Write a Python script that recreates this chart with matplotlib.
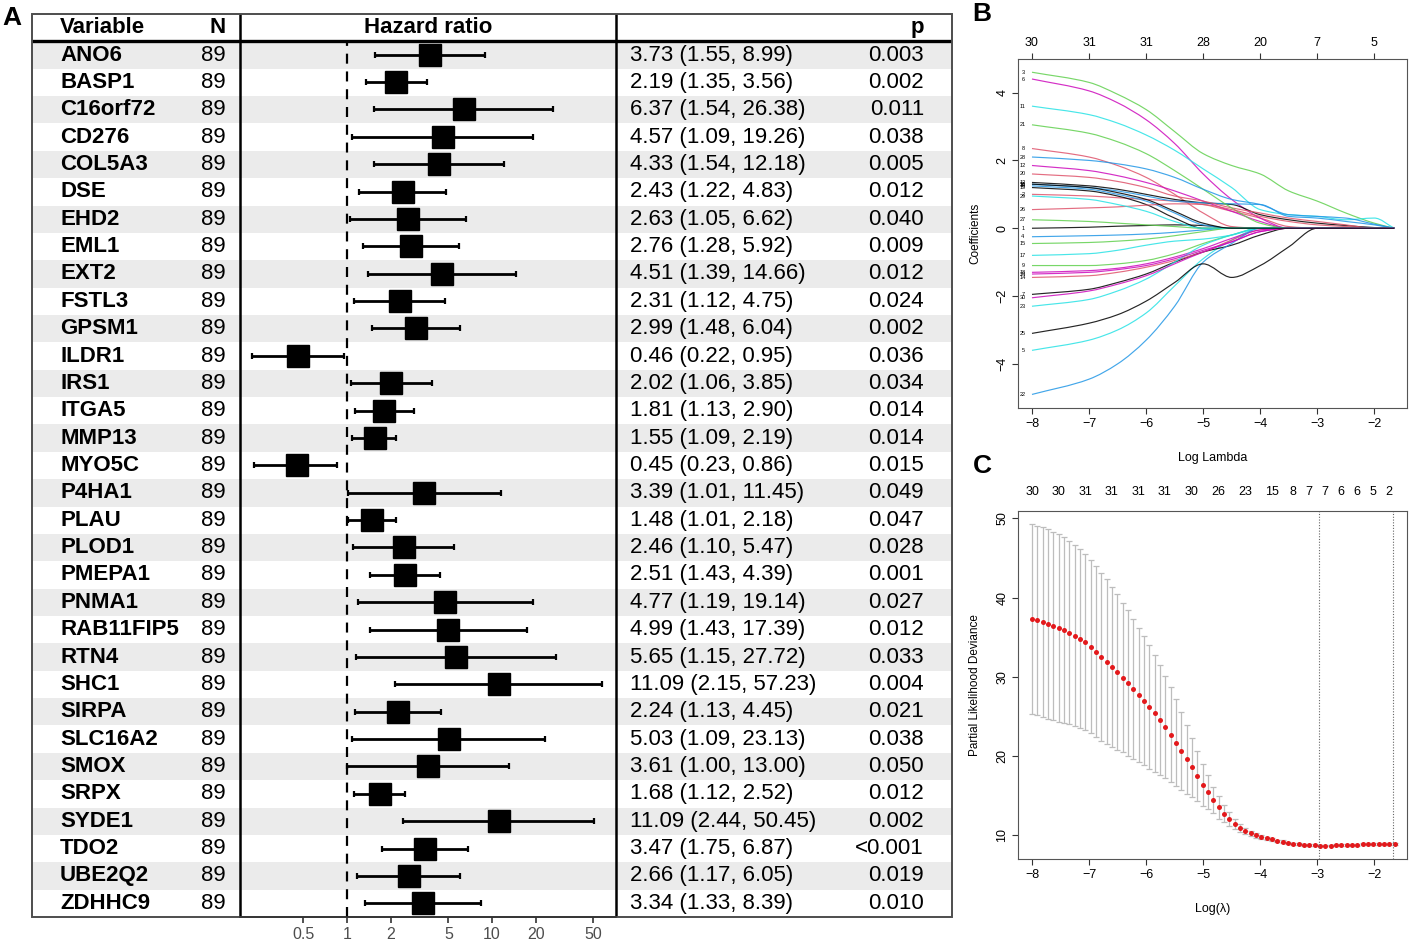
import numpy as np
import matplotlib
matplotlib.use("Agg")
import matplotlib.pyplot as plt
from matplotlib.patches import Rectangle, PathPatch
from matplotlib.path import Path

plt.rcParams["font.family"] = ["Liberation Sans", "DejaVu Sans"]

W, H = 1417, 947

# ---- panel A data (univariate cox) ----
genes = ["ANO6", "BASP1", "C16orf72", "CD276", "COL5A3", "DSE", "EHD2", "EML1",
         "EXT2", "FSTL3", "GPSM1", "ILDR1", "IRS1", "ITGA5", "MMP13", "MYO5C",
         "P4HA1", "PLAU", "PLOD1", "PMEPA1", "PNMA1", "RAB11FIP5", "RTN4", "SHC1",
         "SIRPA", "SLC16A2", "SMOX", "SRPX", "SYDE1", "TDO2", "UBE2Q2", "ZDHHC9"]
n_obs = [89] * 32
hr = [3.73, 2.19, 6.37, 4.57, 4.33, 2.43, 2.63, 2.76, 4.51, 2.31, 2.99, 0.46,
      2.02, 1.81, 1.55, 0.45, 3.39, 1.48, 2.46, 2.51, 4.77, 4.99, 5.65, 11.09,
      2.24, 5.03, 3.61, 1.68, 11.09, 3.47, 2.66, 3.34]
ci_low = [1.55, 1.35, 1.54, 1.09, 1.54, 1.22, 1.05, 1.28, 1.39, 1.12, 1.48, 0.22,
          1.06, 1.13, 1.09, 0.23, 1.01, 1.01, 1.10, 1.43, 1.19, 1.43, 1.15, 2.15,
          1.13, 1.09, 1.00, 1.12, 2.44, 1.75, 1.17, 1.33]
ci_high = [8.99, 3.56, 26.38, 19.26, 12.18, 4.83, 6.62, 5.92, 14.66, 4.75, 6.04, 0.95,
           3.85, 2.90, 2.19, 0.86, 11.45, 2.18, 5.47, 4.39, 19.14, 17.39, 27.72, 57.23,
           4.45, 23.13, 13.00, 2.52, 50.45, 6.87, 6.05, 8.39]
p_text = ["0.003", "0.002", "0.011", "0.038", "0.005", "0.012", "0.040", "0.009",
          "0.012", "0.024", "0.002", "0.036", "0.034", "0.014", "0.014", "0.015",
          "0.049", "0.047", "0.028", "0.001", "0.027", "0.012", "0.033", "0.004",
          "0.021", "0.038", "0.050", "0.012", "0.002", "<0.001", "0.019", "0.010"]
hr_ticks = [0.5, 1, 2, 5, 10, 20, 50]

# ---- panel B data (lasso coefficient paths, read at knots) ----
path_knots = [-8, -7, -6.5, -6, -5.5, -5, -4.5, -4, -3.5, -3, -2.5, -2, -1.65]
coef_paths = [
    [0, 0.03, 0.06, 0.08, 0.1, 0.08, 0, 0, 0, 0, 0, 0, 0],                 # 1
    [1.0, 0.95, 0.9, 0.85, 0.8, 0.7, 0.5, 0.3, 0.05, 0, 0, 0, 0],           # 2
    [4.6, 4.3, 3.95, 3.5, 2.85, 2.2, 1.85, 1.6, 1.1, 0.8, 0.45, 0.15, 0],   # 3
    [-0.25, -0.22, -0.2, -0.17, -0.12, -0.05, 0, 0, 0, 0, 0, 0, 0],         # 4
    [-3.6, -3.3, -3.0, -2.5, -1.7, -0.9, -0.35, 0, 0, 0, 0, 0, 0],          # 5
    [4.4, 4.05, 3.7, 3.2, 2.5, 1.6, 0.85, 0.3, 0, 0, 0, 0, 0],              # 6
    [-1.95, -1.8, -1.6, -1.35, -1.0, -0.7, -0.5, -0.2, 0, 0, 0, 0, 0],      # 7
    [2.35, 2.1, 1.85, 1.5, 1.0, 0.45, 0.05, 0, 0, 0, 0, 0, 0],              # 8
    [-1.1, -1.1, -1.05, -0.95, -0.75, -0.45, -0.2, 0, 0, 0, 0, 0, 0],       # 9
    [1.25, 1.15, 1.0, 0.8, 0.45, 0.1, 0, 0, 0, 0, 0, 0, 0],                 # 10
    [3.6, 3.35, 3.1, 2.75, 2.3, 1.75, 1.2, 0.55, 0.4, 0.35, 0.25, 0.3, 0],  # 11
    [1.85, 1.7, 1.55, 1.35, 1.1, 0.8, 0.5, 0.2, 0, 0, 0, 0, 0],             # 12
    [1.35, 1.25, 1.15, 1.0, 0.85, 0.75, 0.7, 0.4, 0.25, 0.15, 0.08, 0.02, 0],  # 13
    [-1.45, -1.4, -1.3, -1.15, -0.95, -0.7, -0.35, -0.05, 0, 0, 0, 0, 0],   # 14
    [-0.45, -0.42, -0.38, -0.32, -0.22, -0.1, 0, 0, 0, 0, 0, 0, 0],         # 15
    [1.3, 1.2, 1.1, 0.95, 0.8, 0.75, 0.72, 0.7, 0.35, 0.3, 0.2, 0.1, 0],    # 16
    [-0.8, -0.75, -0.65, -0.5, -0.38, -0.32, -0.2, 0, 0, 0, 0, 0, 0],       # 17
    [-1.3, -1.25, -1.18, -1.05, -0.85, -0.6, -0.3, -0.05, 0, 0, 0, 0, 0],   # 18
    [1.2, 1.1, 0.95, 0.7, 0.3, 0, 0, 0, 0, 0, 0, 0, 0],                     # 19
    [1.6, 1.5, 1.38, 1.2, 0.95, 0.8, 0.6, 0.45, 0.3, 0.2, 0.1, 0, 0],       # 20
    [3.05, 2.8, 2.55, 2.2, 1.7, 1.15, 0.6, 0.15, 0, 0, 0, 0, 0],            # 21
    [-4.9, -4.45, -4.0, -3.3, -2.3, -1.0, -0.45, 0, 0, 0, 0, 0, 0],         # 22
    [-2.3, -2.1, -1.85, -1.5, -1.0, -0.5, -0.2, 0, 0, 0, 0, 0, 0],          # 23
    [-1.35, -1.3, -1.22, -1.1, -0.9, -0.65, -0.4, -0.1, 0, 0, 0, 0, 0],     # 24
    [-3.1, -2.8, -2.55, -2.15, -1.6, -1.05, -1.45, -1.1, -0.55, 0, 0, 0, 0],  # 25
    [0.55, 0.6, 0.63, 0.68, 0.72, 0.7, 0.55, 0.35, 0.2, 0.1, 0.05, 0, 0],   # 26
    [0.25, 0.2, 0.15, 0.1, 0.05, 0, 0, 0, 0, 0, 0, 0, 0],                   # 27
    [2.1, 2.0, 1.9, 1.75, 1.5, 1.15, 0.85, 0.7, 0.4, 0.35, 0.3, 0.12, 0],   # 28
    [0.95, 0.85, 0.7, 0.5, 0.2, 0, 0, 0, 0, 0, 0, 0, 0],                    # 29
    [-2.05, -1.85, -1.65, -1.4, -1.05, -0.7, -0.4, -0.1, 0, 0, 0, 0, 0],    # 30
    [1.3, 1.2, 1.05, 0.85, 0.5, 0.15, 0, 0, 0, 0, 0, 0, 0],                 # 31
]
b_top_ticks = [-8, -7, -6, -5, -4, -3, -2]
b_top_labels = ["30", "31", "31", "28", "20", "7", "5"]

# ---- panel C data (10-fold cv) ----
loglam_start, loglam_step = -8.0, 0.0935
cv_mean = [37.29, 37.12, 36.9, 36.65, 36.4, 36.15, 35.9, 35.56, 35.2, 34.8, 34.34, 33.8,
           33.16, 32.5, 31.9, 31.26, 30.55, 29.9, 29.2, 28.45, 27.7, 26.97, 26.17,
           25.37, 24.53, 23.65, 22.7, 21.7, 20.66, 19.6, 18.56, 17.46, 16.37, 15.4,
           14.43, 13.5, 12.7, 12.03, 11.4, 10.9, 10.52, 10.22, 9.97, 9.8, 9.63, 9.5,
           9.3, 9.2, 9.05, 8.95, 8.85, 8.8, 8.75, 8.72, 8.7, 8.7, 8.7, 8.72, 8.75,
           8.75, 8.8, 8.8, 8.85, 8.85, 8.9, 8.9, 8.9, 8.95, 8.95]
cv_sd = [11.99, 11.95, 11.96, 11.95, 11.9, 11.82, 11.7, 11.57, 11.4, 11.3, 11.1, 10.9,
         10.8, 10.6, 10.4, 10.1, 9.85, 9.45, 9.2, 8.85, 8.5, 8.13, 7.8,
         7.33, 6.9, 6.48, 6.04, 5.53, 4.92, 4.34, 3.7, 3.16, 2.63, 2.15,
         1.67, 1.4, 1.06, 0.85, 0.67, 0.54, 0.41, 0.32, 0.27, 0.23, 0.2, 0.18,
         0.16, 0.15, 0.14, 0.13, 0.12, 0.12, 0.12, 0.12, 0.12, 0.12, 0.12, 0.12,
         0.12, 0.12, 0.12, 0.12, 0.12, 0.12, 0.12, 0.12, 0.12, 0.12, 0.12]
lambda_min_log = -2.97
lambda_1se_log = -1.67
c_top_pos = [-7.99, -7.53, -7.06, -6.60, -6.13, -5.67, -5.20, -4.73, -4.26, -3.80,
             -3.43, -3.15, -2.87, -2.59, -2.31, -2.02, -1.75]
c_top_labels = ["30", "30", "31", "31", "31", "31", "30", "26", "23", "15",
                "8", "7", "7", "6", "6", "5", "2"]

r_cols = ["black", "#DF536B", "#61D04F", "#2297E6", "#28E2E5", "#CD0BBC"]


def px_axes(fig, left, top, right, bottom):
    return fig.add_axes([left / W, 1 - bottom / H, (right - left) / W, (bottom - top) / H])


def smooth_path(xs, ys):
    # monotone cubic (hermite) segments drawn as bezier curves through the knots
    xs = np.asarray(xs, float)
    ys = np.asarray(ys, float)
    h = np.diff(xs)
    d = np.diff(ys) / h
    m = np.zeros_like(ys)
    m[0], m[-1] = d[0], d[-1]
    for i in range(1, len(ys) - 1):
        if d[i - 1] * d[i] > 0:
            w1 = 2 * h[i] + h[i - 1]
            w2 = h[i] + 2 * h[i - 1]
            m[i] = (w1 + w2) / (w1 / d[i - 1] + w2 / d[i])
    verts = [(xs[0], ys[0])]
    codes = [Path.MOVETO]
    for i in range(len(h)):
        verts += [(xs[i] + h[i] / 3, ys[i] + m[i] * h[i] / 3),
                  (xs[i + 1] - h[i] / 3, ys[i + 1] - m[i + 1] * h[i] / 3),
                  (xs[i + 1], ys[i + 1])]
        codes += [Path.CURVE4] * 3
    return Path(verts, codes)


fig = plt.figure(figsize=(W / 100, H / 100), dpi=100)

# ================= A: forest table =================
n = len(genes)
ax_t = px_axes(fig, 32, 14, 952, 917)
ax_t.set_xlim(32, 952)
ax_t.set_ylim(n - 0.5, -1.5)
ax_t.axis("off")

for i in range(n):
    if i % 2 == 0:
        ax_t.axhspan(i - 0.5, i + 0.5, color="#ebebeb", lw=0, zorder=0)

fs = 16
fsb = 16
ax_t.text(60, -1, "Variable", fontsize=fsb, fontweight="bold", va="center", ha="left")
ax_t.text(226, -1, "N", fontsize=fsb, fontweight="bold", va="center", ha="right")
ax_t.text(428, -1, "Hazard ratio", fontsize=fsb, fontweight="bold", va="center", ha="center")
ax_t.text(924, -1, "p", fontsize=fsb, fontweight="bold", va="center", ha="right")
for i, g in enumerate(genes):
    ax_t.text(60, i, g, fontsize=fsb, fontweight="bold", va="center", ha="left")
    ax_t.text(226, i, str(n_obs[i]), fontsize=fs, va="center", ha="right")
    ax_t.text(630, i, f"{hr[i]:.2f} ({ci_low[i]:.2f}, {ci_high[i]:.2f})",
              fontsize=fs, va="center", ha="left")
    ax_t.text(924, i, p_text[i], fontsize=fs, va="center", ha="right")

ax_t.axvline(240, color="black", lw=1.8, zorder=3)
ax_t.axvline(616, color="black", lw=1.8, zorder=3)
ax_t.plot([32, 952], [-0.5, -0.5], color="black", lw=2.4, zorder=3)
ax_t.add_patch(Rectangle((32, -1.5), 920, n + 1, fill=False, ec="#4d4d4d", lw=1.4,
                         zorder=4, clip_on=False))

ax_f = px_axes(fig, 240, 41, 616, 917)
ax_f.set_facecolor("none")
ax_f.set_xscale("log")
ax_f.set_xlim(0.183, 71.6)
ax_f.set_ylim(n - 0.5, -0.5)
rows = np.arange(n)
ax_f.axvline(1, color="black", lw=1.6, ls=(0, (4.5, 3.5)), zorder=1)
ax_f.hlines(rows, ci_low, ci_high, color="black", lw=2.0, zorder=2)
ax_f.plot(ci_low, rows, ls="none", marker="|", ms=5, mew=1.6, color="black", zorder=2)
ax_f.plot(ci_high, rows, ls="none", marker="|", ms=5, mew=1.6, color="black", zorder=2)
ax_f.plot(hr, rows, ls="none", marker="s", ms=15.5, color="black", zorder=3)
for s in ["top", "left", "right"]:
    ax_f.spines[s].set_visible(False)
ax_f.spines["bottom"].set_color("#333333")
ax_f.spines["bottom"].set_linewidth(1.2)
ax_f.set_yticks([])
ax_f.set_xticks(hr_ticks)
ax_f.set_xticklabels([str(t) for t in hr_ticks])
ax_f.xaxis.set_minor_locator(matplotlib.ticker.NullLocator())
ax_f.tick_params(axis="x", length=4, width=1.2, color="#333333", labelsize=11.5,
                 labelcolor="#4d4d4d", pad=3)

# ================= B: coefficient paths =================
xlim_bc = (-8.245, -1.427)
tick_kw = dict(labelsize=9, length=4, width=0.8, color="#333333", pad=3)

ax_b = px_axes(fig, 1018, 59, 1407, 408)
for k, path in enumerate(coef_paths):
    ax_b.add_patch(PathPatch(smooth_path(path_knots, path), fill=False,
                             ec=r_cols[k % 6], lw=0.85, alpha=0.85))
    ax_b.text(-8.16, path[0], str(k + 1), fontsize=4, ha="center", va="center")
ax_b.set_xlim(*xlim_bc)
ax_b.set_ylim(-5.30, 4.99)
ax_b.set_xticks([-8, -7, -6, -5, -4, -3, -2])
ax_b.set_xticklabels(["\u22128", "\u22127", "\u22126", "\u22125", "\u22124", "\u22123", "\u22122"])
ax_b.set_yticks([-4, -2, 0, 2, 4])
ax_b.set_yticklabels(["\u22124", "\u22122", "0", "2", "4"], rotation=90, va="center")
ax_b.tick_params(**tick_kw)
ax_b.set_xlabel("Log Lambda", fontsize=9, labelpad=16)
ax_b.set_ylabel("Coefficients", fontsize=8.5, labelpad=11)
sec_b = ax_b.secondary_xaxis("top")
sec_b.set_xticks(b_top_ticks)
sec_b.set_xticklabels(b_top_labels)
sec_b.tick_params(**tick_kw)
for sp in ax_b.spines.values():
    sp.set_color("#555555")
for sp in sec_b.spines.values():
    sp.set_visible(False)

# ================= C: cross validation =================
ax_c = px_axes(fig, 1018, 511, 1407, 859)
loglam = loglam_start + loglam_step * np.arange(len(cv_mean))
ax_c.errorbar(loglam, cv_mean, yerr=cv_sd, fmt="none", ecolor="#bdbdbd",
              elinewidth=0.9, capsize=2.5, capthick=0.9, zorder=1)
ax_c.plot(loglam, cv_mean, ls="none", marker="o", ms=3.6, color="#e3191c",
          mec="none", zorder=2)
ax_c.axvline(lambda_min_log, color="#666666", lw=0.8, ls=(0, (1, 1.5)))
ax_c.axvline(lambda_1se_log, color="#666666", lw=0.8, ls=(0, (1, 1.5)))
ax_c.set_xlim(*xlim_bc)
ax_c.set_ylim(7.0, 50.92)
ax_c.set_xticks([-8, -7, -6, -5, -4, -3, -2])
ax_c.set_xticklabels(["\u22128", "\u22127", "\u22126", "\u22125", "\u22124", "\u22123", "\u22122"])
ax_c.set_yticks([10, 20, 30, 40, 50])
ax_c.set_yticklabels(["10", "20", "30", "40", "50"], rotation=90, va="center")
ax_c.tick_params(**tick_kw)
ax_c.set_xlabel("Log(\u03bb)", fontsize=9, labelpad=16)
ax_c.set_ylabel("Partial Likelihood Deviance", fontsize=8.5, labelpad=11)
sec_c = ax_c.secondary_xaxis("top")
sec_c.set_xticks(c_top_pos)
sec_c.set_xticklabels(c_top_labels)
sec_c.tick_params(labelsize=9, length=0, pad=9)
for sp in ax_c.spines.values():
    sp.set_color("#555555")
for sp in sec_c.spines.values():
    sp.set_visible(False)

# panel letters
fig.text(12 / W, 1 - 18 / H, "A", fontsize=19, fontweight="bold", ha="center", va="center")
fig.text(982 / W, 1 - 14 / H, "B", fontsize=19, fontweight="bold", ha="center", va="center")
fig.text(982 / W, 1 - 466 / H, "C", fontsize=19, fontweight="bold", ha="center", va="center")

fig.savefig("out.png", dpi=100)
